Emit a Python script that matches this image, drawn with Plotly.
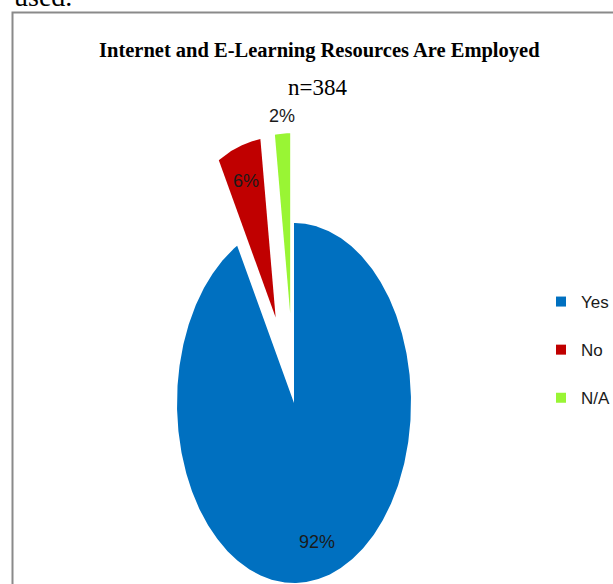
import numpy as np
import plotly.graph_objects as go

# ---- data ----
categories = ["Yes", "No", "N/A"]
counts = [353, 23, 8]          # n = 384
sample_size = 384
colors = ["#0070C0", "#C00000", "#99F534"]
explode = [0.0, 0.5, 0.5]
label_radius = [0.8, 0.8, 1.1]

title_text = "Internet and E-Learning Resources Are Employed"
subtitle_text = f"n={sample_size}"

# ---- geometry (stretched pie, like the squeezed original) ----
W, H = 613, 584
cx_px, cy_px, rx_px, ry_px = 294, 403, 117, 180
xr = [-cx_px / rx_px, (W - cx_px) / rx_px]
yr = [(cy_px - H) / ry_px, cy_px / ry_px]

sans = "Liberation Sans, Arial, sans-serif"
serif = "Liberation Serif, Times New Roman, serif"

total = sum(counts)
fig = go.Figure()
start = 0.0
for cat, c, col, ex, lr in zip(categories, counts, colors, explode, label_radius):
    sweep = 360.0 * c / total
    end = start + sweep
    mid = np.radians(start + sweep / 2)
    ox, oy = ex * np.sin(mid), ex * np.cos(mid)
    th = np.radians(np.linspace(start, end, max(int(sweep * 2), 6)))
    xs = np.concatenate([[ox], ox + np.sin(th), [ox]])
    ys = np.concatenate([[oy], oy + np.cos(th), [oy]])
    fig.add_trace(go.Scatter(x=xs, y=ys, fill="toself", fillcolor=col, mode="lines",
                             line=dict(width=0, color=col), hoverinfo="skip", showlegend=False))
    fig.add_annotation(x=ox + lr * np.sin(mid), y=oy + lr * np.cos(mid),
                       text=f"{round(100 * c / total)}%", showarrow=False,
                       font=dict(family=sans, size=18, color="#1a1a1a"))
    start = end

for cat, col in zip(categories, colors):
    fig.add_trace(go.Scatter(x=[None], y=[None], mode="markers", name=cat, legendgroup=cat,
                             marker=dict(symbol="square", size=10, color=col)))

# title + n
fig.add_annotation(xref="paper", yref="paper", x=319 / W, y=1 - 51 / H, text=f"<b>{title_text}</b>",
                   showarrow=False, xanchor="center", yanchor="middle",
                   font=dict(family=serif, size=20.5, color="black"))
fig.add_annotation(xref="paper", yref="paper", x=317 / W, y=1 - 88 / H, text=subtitle_text,
                   showarrow=False, xanchor="center", yanchor="middle",
                   font=dict(family=serif, size=23, color="black"))
# cut-off text above the box (as in the original crop)
fig.add_annotation(xref="paper", yref="paper", x=12 / W, y=1 - 14 / H, text="used.",
                   showarrow=False, xanchor="left", yanchor="bottom",
                   font=dict(family=serif, size=28, color="black"))

# frame
fig.add_shape(type="rect", xref="paper", yref="paper", x0=12.5 / W, y0=-0.1, x1=1.1, y1=1 - 12.5 / H,
              line=dict(color="#8a8a8a", width=2), fillcolor="rgba(0,0,0,0)", layer="below")

fig.update_layout(
    width=W, height=H, margin=dict(l=0, r=0, t=0, b=0, autoexpand=False),
    paper_bgcolor="white", plot_bgcolor="white",
    xaxis=dict(range=xr, visible=False, fixedrange=True),
    yaxis=dict(range=yr, visible=False, fixedrange=True),
    showlegend=True,
    legend=dict(x=541 / W, y=1 - 350 / H, xanchor="left", yanchor="middle",
                traceorder="grouped", tracegroupgap=23, bgcolor="rgba(0,0,0,0)",
                font=dict(family=sans, size=17, color="#1a1a1a")),
)

fig.write_html("out.html")
